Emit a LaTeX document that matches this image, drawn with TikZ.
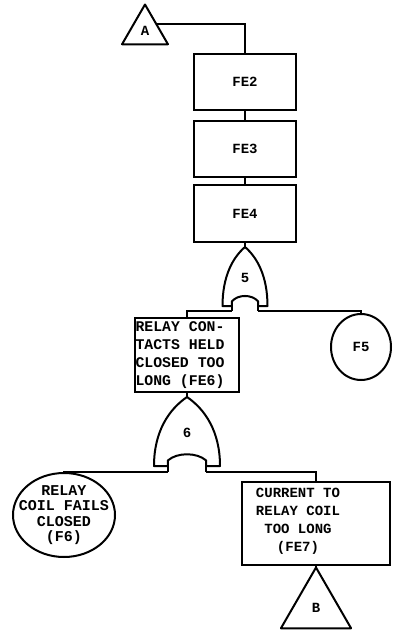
\documentclass[tikz,border=0pt]{standalone}
\usepackage{fontspec}
\setmonofont{Liberation Mono}
\usetikzlibrary{shapes.geometric, positioning, calc}

\tikzset{
  pics/orgate/.style n args={3}{code={
    \begin{scope}[xscale=#2, yscale=#3]
      \draw[gate] (0,0) .. controls (0.55,0.18) and (1,0.5) .. (1,1)
        -- (0.58,1) -- (0.58,0.92) .. controls (0.3,0.8) and (-0.3,0.8) .. (-0.58,0.92)
        -- (-0.58,1) -- (-1,1) .. controls (-1,0.5) and (-0.55,0.18) .. cycle;
      \draw[gate] (-0.58,1) -- (-0.58,1.08) (0.58,1) -- (0.58,1.08);
      \coordinate (-top) at (0,0);
      \coordinate (-l) at (-0.58,1.08);
      \coordinate (-r) at (0.58,1.08);
      \node[txt] (-lbl) at (0,0.52) {#1};
    \end{scope}
  }}
}

\begin{document}
\begin{tikzpicture}[x=1pt, y=-1pt,
    txt/.style={font=\ttfamily\bfseries\fontsize{14}{18}\selectfont, inner sep=0pt},
    thickline/.style={line width=2pt},
    gate/.style={thickline, line join=round},
    event/.style={rectangle, draw, thickline, minimum width=102pt, minimum height=56pt, txt, inner sep=3pt},
    basic/.style={ellipse, draw, thickline, txt, inner sep=0pt},
    transfer/.style={regular polygon, regular polygon sides=3, draw, thickline, line join=round, txt, inner sep=0pt},
]
\useasboundingbox (0,0) rectangle (392,632);

% Transfer in (A)
\node[transfer, minimum size=53pt] (trA) at (145,31) {A};

% Intermediate events
\node[event] (fe2) at (245,82) {FE2};
\node[event] (fe3) at (245,149) {FE3};
\node[event, minimum height=57pt] (fe4) at (245,213.5) {FE4};

% Gate 5
\pic (g5) at (245,247) {orgate={5}{22.5}{59}};

\node[event, minimum width=104pt, minimum height=74pt,
  label={[txt, align=left, xshift=-7pt, font=\ttfamily\bfseries\fontsize{14.8}{18}\selectfont]center:{RELAY CON-\\TACTS HELD\\CLOSED TOO\\LONG (FE6)}}] (fe6) at (187,355) {};
\node[basic, minimum width=60pt, minimum height=66pt] (f5) at (361,347) {F5};

% Gate 6
\pic (g6) at (187,397) {orgate={6}{33}{69}};

\node[basic, minimum width=102pt, minimum height=84pt,
  label={[txt, align=center, font=\ttfamily\bfseries\fontsize{15}{15.5}\selectfont]center:{RELAY\\COIL FAILS\\CLOSED\\(F6)}}] (f6) at (64,515) {};
\node[event, minimum width=148pt, minimum height=83pt,
  label={[txt, align=center, xshift=-18pt, yshift=2pt]center:{CURRENT TO\\RELAY COIL\\TOO LONG\\(FE7)}}] (fe7) at (316,523.5) {};

% Transfer (B)
\node[transfer, minimum size=81pt] (trB) at (316,608) {B};

% Connectors
\draw[thickline] (fe2.north) |- (trA.side 3);
\draw[thickline] (fe2) -- (fe3);
\draw[thickline] (fe3) -- (fe4);
\draw[thickline] (fe4) -- (g5-top);
\draw[thickline] (g5-l) -| (fe6.north);
\draw[thickline] (g5-r) -| (f5.north);
\draw[thickline] (fe6) -- (g6-top);
\draw[thickline] (g6-l) -| (f6.north);
\draw[thickline] (g6-r) -| (fe7.north);
\draw[thickline] (fe7) -- (trB.corner 1);

\end{tikzpicture}
\end{document}
